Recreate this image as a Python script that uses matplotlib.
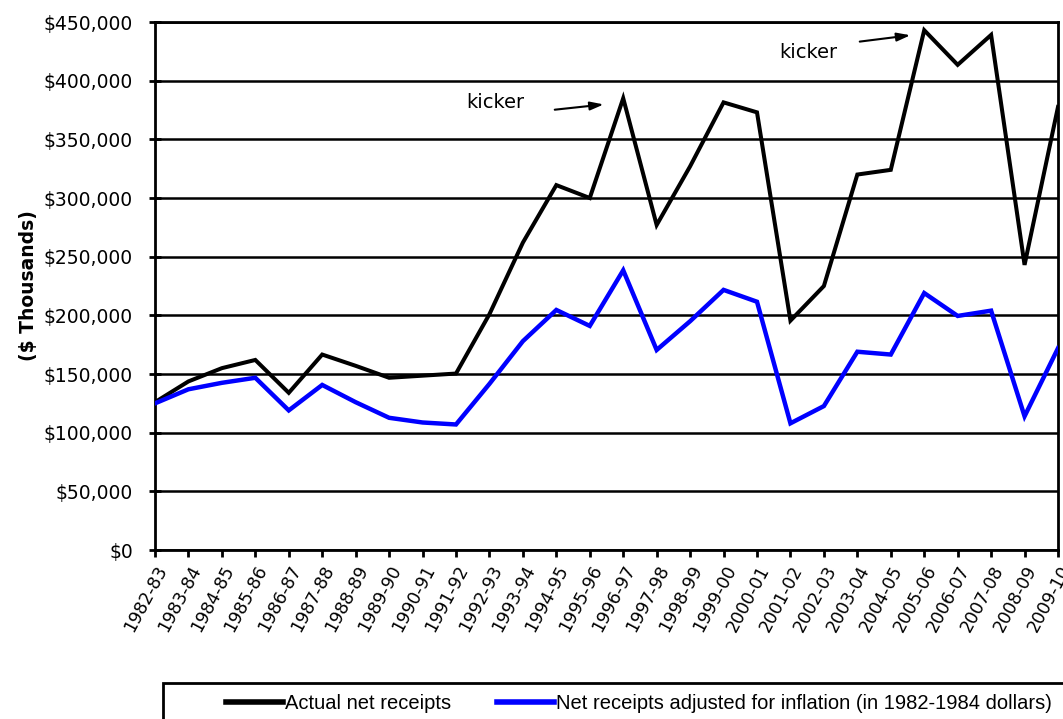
import matplotlib
matplotlib.use('Agg')
import matplotlib.pyplot as plt
from matplotlib.lines import Line2D
from matplotlib.patches import Rectangle
from matplotlib.ticker import FuncFormatter


years = ['1982-83', '1983-84', '1984-85', '1985-86', '1986-87', '1987-88', '1988-89',
         '1989-90', '1990-91', '1991-92', '1992-93', '1993-94', '1994-95', '1995-96',
         '1996-97', '1997-98', '1998-99', '1999-00', '2000-01', '2001-02', '2002-03',
         '2003-04', '2004-05', '2005-06', '2006-07', '2007-08', '2008-09', '2009-10']

# $ thousands
actual = [126000, 143700, 155000, 162000, 134000, 166600, 157000, 146800, 148600, 150400,
          201000, 262000, 311000, 300000, 385000, 277000, 327000, 381500, 373000, 195500,
          225000, 320000, 324000, 443000, 413500, 439000, 243000, 377600]
adjusted = [125000, 137000, 142500, 146800, 119000, 140700, 126000, 112700, 108700, 107000,
            141600, 178000, 204600, 191000, 238400, 170500, 195000, 221700, 211600, 108000,
            122700, 169000, 166600, 219000, 199500, 204000, 114000, 172000]

y_ticks = [0, 50000, 100000, 150000, 200000, 250000, 300000, 350000, 400000, 450000]

fig = plt.figure(figsize=(10.63, 7.19), dpi=100)
ax = fig.add_axes([0.1458, 0.235, 0.8495, 0.7344])

x = list(range(len(years)))
ax.plot(x, actual, color='black', lw=2.9, solid_joinstyle='miter', zorder=3)
ax.plot(x, adjusted, color='#0000ff', lw=3.2, solid_joinstyle='miter', zorder=3)

ax.set_xlim(0, len(years) - 1)
ax.set_ylim(0, 450000)
ax.set_yticks(y_ticks)
ax.yaxis.set_major_formatter(FuncFormatter(lambda v, p: '${:,.0f}'.format(v)))
ax.yaxis.grid(True, color='black', lw=1.8)
ax.set_axisbelow(True)

ax.set_xticks(x)
ax.set_xticklabels(years, rotation=62, ha='right', rotation_mode='anchor',
                   fontsize=12.5, family='DejaVu Sans')
ax.tick_params(axis='x', direction='out', length=5, width=2, pad=4)
ax.tick_params(axis='y', direction='inout', length=8, width=2, pad=12,
               labelsize=13.5)

for s in ax.spines.values():
    s.set_linewidth(2)
    s.set_color('black')

ax.set_ylabel('($ Thousands)', fontsize=13.5, fontweight='bold', labelpad=4)

# kicker notes
ax.text(10.17, 381000, 'kicker', fontsize=14, ha='center', va='center')
ax.annotate('', xy=(13.5, 380000), xytext=(11.87, 375000),
            arrowprops=dict(arrowstyle='-|>,head_length=0.8,head_width=0.25',
                            color='black', lw=1.5))
ax.text(19.53, 423600, 'kicker', fontsize=14, ha='center', va='center')
ax.annotate('', xy=(22.67, 439000), xytext=(20.99, 433000),
            arrowprops=dict(arrowstyle='-|>,head_length=0.8,head_width=0.25',
                            color='black', lw=1.5))

handles = [Line2D([0], [0], color='black', lw=4),
           Line2D([0], [0], color='#0000ff', lw=4)]
labels = ['Actual net receipts',
          'Net receipts adjusted for inflation (in 1982-1984 dollars)']
fig.legend(handles, labels, loc='center left', bbox_to_anchor=(0.196, 0.021),
           ncol=2, frameon=False, handlelength=2.8, handletextpad=0.1,
           columnspacing=2.3,
           prop={'family': ['Liberation Sans Narrow', 'Liberation Sans'], 'size': 14.5})
fig.patches.append(Rectangle((163 / 1063, -0.02), 1.0, (719 - 683) / 719 + 0.02,
                             transform=fig.transFigure, fill=False, lw=2,
                             ec='black'))

fig.savefig('out.png', dpi=100)
